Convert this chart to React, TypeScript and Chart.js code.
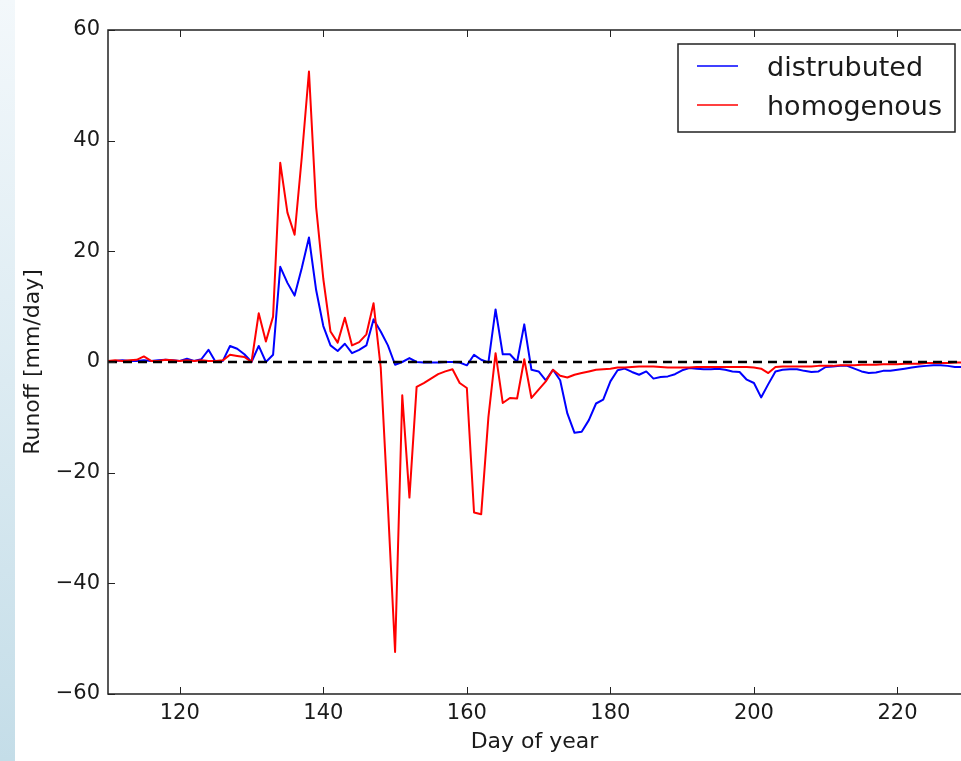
import React, { useEffect, useRef } from "react";
import { Chart, registerables } from "chart.js";

Chart.register(...registerables);

const startDay = 110;
const xMin = 110;
const xMax = 228.85;
const xTickValues = [120, 140, 160, 180, 200, 220];
const yTickValues = [-60, -40, -20, 0, 20, 40, 60];
const seriesNames = ["distrubuted", "homogenous"];
const seriesColors = ["#0000ff", "#ff0000"];

// distributed runoff, day 110 .. 229
const distributed = [
  0, 0.2, 0.3, 0.2, 0.2, 0.3, 0.2, 0.3, 0.4, 0.3,
  0.2, 0.6, 0.2, 0.5, 2.2, 0, 0.2, 2.9, 2.4, 1.4,
  0, 2.9, 0, 1.3, 17.2, 14.3, 12, 17, 22.5, 13,
  6.5, 3, 2, 3.3, 1.6, 2.2, 3, 7.7, 5.5, 3,
  -0.5, 0, 0.7, 0, -0.1, -0.1, -0.1, 0, 0, -0.1,
  -0.6, 1.3, 0.4, -0.1, 9.5, 1.4, 1.4, 0, 6.8, -1.4,
  -1.7, -3.3, -1.4, -3.3, -9.3, -12.8, -12.6, -10.5, -7.5, -6.8,
  -3.5, -1.5, -1.2, -1.8, -2.3, -1.7, -3, -2.7, -2.6, -2.2,
  -1.5, -1.1, -1.2, -1.3, -1.3, -1.2, -1.4, -1.7, -1.8, -3.2,
  -3.8, -6.4, -4, -1.7, -1.4, -1.3, -1.3, -1.6, -1.8, -1.7,
  -0.9, -0.8, -0.7, -0.7, -1.2, -1.7, -2, -1.9, -1.6, -1.6,
  -1.4, -1.2, -1, -0.8, -0.7, -0.6, -0.6, -0.7, -0.9, -0.9,
];

// homogenous runoff, day 110 .. 229
const homogenous = [
  0.2, 0.3, 0.2, 0.3, 0.4, 1, 0.2, 0.2, 0.4, 0.3,
  0.2, 0.3, 0.2, 0.3, 0.2, 0.2, 0.3, 1.3, 1.1, 0.9,
  0, 8.8, 3.7, 8.2, 36, 27, 23, 37, 52.5, 28,
  15, 5.5, 3.5, 8, 3, 3.6, 5, 10.6, -1, -26,
  -52.4, -6, -24.5, -4.5, -3.8, -3, -2.2, -1.7, -1.3, -3.8,
  -4.7, -27.2, -27.5, -10, 1.6, -7.4, -6.5, -6.6, 0.5, -6.5,
  -5, -3.5, -1.4, -2.5, -2.8, -2.3, -2, -1.7, -1.4, -1.3,
  -1.2, -1, -1, -0.9, -0.8, -0.8, -0.8, -0.9, -1, -1,
  -1, -1, -0.9, -0.9, -0.9, -0.9, -0.9, -0.9, -0.9, -0.9,
  -1, -1.2, -2, -0.9, -0.8, -0.8, -0.8, -0.8, -0.8, -0.7,
  -0.7, -0.7, -0.6, -0.6, -0.6, -0.5, -0.5, -0.5, -0.4, -0.4,
  -0.4, -0.3, -0.3, -0.3, -0.2, -0.2, -0.2, -0.2, -0.1, -0.1,
];

const zeroLine = [0, 0];

const FONT = "'DejaVu Sans', sans-serif";
const TEXT = "#1a1a1a";

const framePlugin = {
  id: "mplFrame",
  afterDraw(chart: any) {
    const { ctx, chartArea, scales } = chart;
    const { left, right, top, bottom } = chartArea;
    const x = scales.x;
    const y = scales.y;
    ctx.save();
    ctx.strokeStyle = "#222";
    ctx.lineWidth = 1.5;
    ctx.beginPath();
    ctx.moveTo(right + 5, top);
    ctx.lineTo(left, top);
    ctx.lineTo(left, bottom);
    ctx.lineTo(right + 5, bottom);
    ctx.stroke();
    ctx.lineWidth = 1;
    ctx.beginPath();
    xTickValues.forEach((v) => {
      const px = Math.round(x.getPixelForValue(v)) + 0.5;
      ctx.moveTo(px, bottom);
      ctx.lineTo(px, bottom - 7);
      ctx.moveTo(px, top);
      ctx.lineTo(px, top + 7);
    });
    yTickValues.forEach((v) => {
      const py = Math.round(y.getPixelForValue(v)) + 0.5;
      ctx.moveTo(left, py);
      ctx.lineTo(left + 7, py);
    });
    ctx.stroke();

    // legend
    const bx = 678, by = 44, bw = 277, bh = 88;
    ctx.fillStyle = "#ffffff";
    ctx.fillRect(bx, by, bw, bh);
    ctx.strokeStyle = "#222";
    ctx.lineWidth = 1.5;
    ctx.strokeRect(bx, by, bw, bh);
    ctx.font = `27px ${FONT}`;
    ctx.textBaseline = "alphabetic";
    ctx.textAlign = "left";
    const rows = [
      { lineY: 66, textY: 76 },
      { lineY: 105, textY: 115 },
    ];
    seriesNames.forEach((name, i) => {
      ctx.strokeStyle = seriesColors[i];
      ctx.lineWidth = 1.5;
      ctx.beginPath();
      ctx.moveTo(697, rows[i].lineY);
      ctx.lineTo(738, rows[i].lineY);
      ctx.stroke();
      ctx.fillStyle = TEXT;
      ctx.fillText(name, 767, rows[i].textY);
    });
    ctx.restore();
  },
};

function fmt(v: number) {
  return v < 0 ? "\u2212" + Math.abs(v) : String(v);
}

export default function App() {
  const ref = useRef<HTMLCanvasElement | null>(null);
  useEffect(() => {
    if (!ref.current) return;
    const toPts = (arr: number[]) => arr.map((v, i) => ({ x: startDay + i, y: v }));
    const chart = new Chart(ref.current, {
      type: "line",
      data: {
        datasets: [
          {
            label: "zero",
            data: [
              { x: xMin, y: zeroLine[0] },
              { x: 229, y: zeroLine[1] },
            ],
            borderColor: "#000000",
            borderWidth: 2.5,
            borderDash: [9, 6],
            pointRadius: 0,
            order: 0,
          },
          {
            label: seriesNames[0],
            data: toPts(distributed),
            borderColor: seriesColors[0],
            borderWidth: 2,
            pointRadius: 0,
            tension: 0,
            borderJoinStyle: "round",
            order: 2,
          },
          {
            label: seriesNames[1],
            data: toPts(homogenous),
            borderColor: seriesColors[1],
            borderWidth: 2,
            pointRadius: 0,
            tension: 0,
            borderJoinStyle: "round",
            order: 1,
          },
        ],
      },
      options: {
        responsive: false,
        animation: false,
        devicePixelRatio: 1,
        layout: { padding: { top: 30, left: 0, right: 0, bottom: 0 } },
        plugins: { legend: { display: false }, tooltip: { enabled: false } },
        scales: {
          x: {
            type: "linear",
            min: xMin,
            max: xMax,
            afterBuildTicks: (s: any) => {
              s.ticks = xTickValues.map((v) => ({ value: v }));
            },
            afterFit: (s: any) => {
              s.height = 67;
            },
            grid: { display: false, drawTicks: false },
            border: { display: false },
            ticks: {
              padding: 7,
              color: TEXT,
              font: { family: FONT, size: 21 },
              maxRotation: 0,
              autoSkip: false,
              callback: (v: any) => fmt(Number(v)),
            },
            title: {
              display: true,
              text: "Day of year",
              color: TEXT,
              font: { family: FONT, size: 22 },
              padding: { top: 0, bottom: 6 },
            },
          },
          y: {
            type: "linear",
            min: -60,
            max: 60,
            afterBuildTicks: (s: any) => {
              s.ticks = yTickValues.map((v) => ({ value: v }));
            },
            afterFit: (s: any) => {
              s.width = 108;
            },
            grid: { display: false, drawTicks: false },
            border: { display: false },
            ticks: {
              padding: 8,
              color: TEXT,
              font: { family: FONT, size: 21 },
              autoSkip: false,
              callback: (v: any) => fmt(Number(v)),
            },
            title: {
              display: true,
              text: "Runoff [mm/day]",
              color: TEXT,
              font: { family: FONT, size: 22 },
              padding: { top: 20, bottom: 0 },
            },
          },
        },
      },
      plugins: [framePlugin],
    });
    return () => chart.destroy();
  }, []);

  return (
    <div
      style={{
        position: "absolute",
        left: 0,
        top: 0,
        width: 961,
        height: 761,
        background: "#ffffff",
        overflow: "hidden",
      }}
    >
      <div
        style={{
          position: "absolute",
          left: 0,
          top: 0,
          width: 15,
          height: 761,
          background: "linear-gradient(to bottom, #f3f8fb 0%, #dcebf2 50%, #c4dde8 100%)",
        }}
      />
      <canvas
        ref={ref}
        width={961}
        height={761}
        style={{ position: "absolute", left: 0, top: 0, width: 961, height: 761 }}
      />
    </div>
  );
}
